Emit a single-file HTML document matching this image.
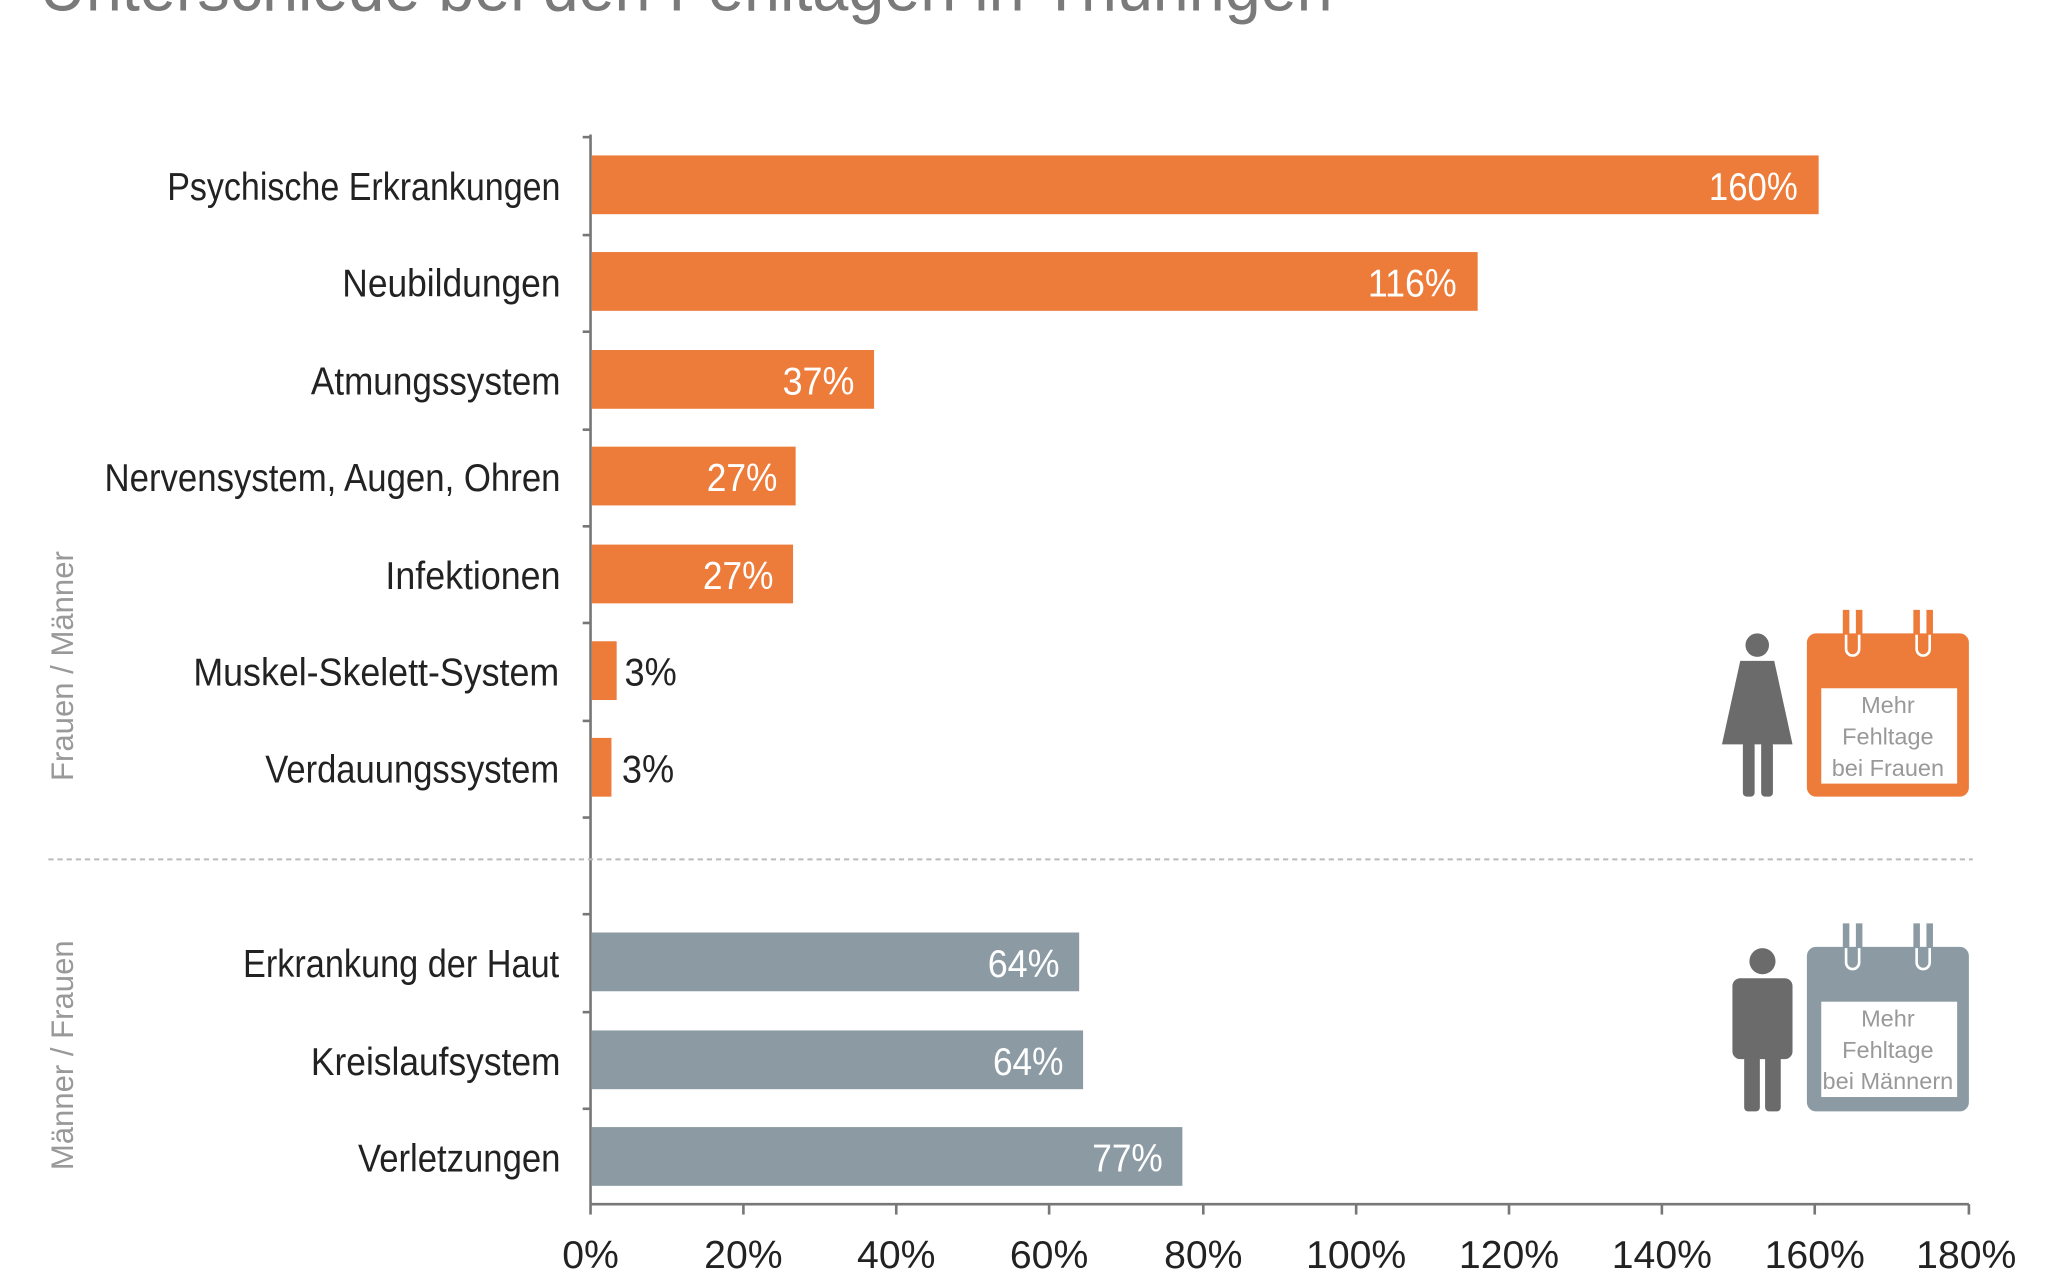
<!DOCTYPE html>
<html><head><meta charset="utf-8"><style>
html,body{margin:0;padding:0;background:#fff;width:2048px;height:1280px;overflow:hidden}
svg{display:block}
text{font-family:"Liberation Sans Narrow","Liberation Sans",sans-serif}
</style></head><body>
<svg width="2048" height="1280" viewBox="0 0 2048 1280">
<g transform="scale(1.3065,1.306)">
<text x="30" y="8" font-size="52" fill="#7a7a7a" textLength="990" lengthAdjust="spacingAndGlyphs">Unterschiede bei den Fehltagen in Thüringen</text>
<line x1="452" y1="103" x2="452" y2="922" stroke="#777" stroke-width="2"/>
<line x1="452" y1="922" x2="1507" y2="922" stroke="#777" stroke-width="2"/>
<g stroke="#777" stroke-width="2">
<line x1="446" y1="105" x2="452" y2="105"/><line x1="446" y1="180" x2="452" y2="180"/><line x1="446" y1="254" x2="452" y2="254"/><line x1="446" y1="329" x2="452" y2="329"/><line x1="446" y1="403" x2="452" y2="403"/><line x1="446" y1="477" x2="452" y2="477"/><line x1="446" y1="552" x2="452" y2="552"/><line x1="446" y1="626" x2="452" y2="626"/><line x1="446" y1="700" x2="452" y2="700"/><line x1="446" y1="775" x2="452" y2="775"/><line x1="446" y1="849" x2="452" y2="849"/>
<line x1="452" y1="922" x2="452" y2="930"/><line x1="569" y1="922" x2="569" y2="930"/><line x1="686" y1="922" x2="686" y2="930"/><line x1="803" y1="922" x2="803" y2="930"/><line x1="921" y1="922" x2="921" y2="930"/><line x1="1038" y1="922" x2="1038" y2="930"/><line x1="1155" y1="922" x2="1155" y2="930"/><line x1="1272" y1="922" x2="1272" y2="930"/><line x1="1389" y1="922" x2="1389" y2="930"/><line x1="1507" y1="922" x2="1507" y2="930"/>
</g>
<line x1="37" y1="658" x2="1510" y2="658" stroke="#bbb" stroke-width="1.5" stroke-dasharray="4,3"/>
<g font-size="30" fill="#222" text-anchor="middle">
<text x="452" y="971">0%</text><text x="569" y="971">20%</text><text x="686" y="971">40%</text><text x="803" y="971">60%</text><text x="921" y="971">80%</text><text x="1038" y="971">100%</text><text x="1155" y="971">120%</text><text x="1272" y="971">140%</text><text x="1389" y="971">160%</text><text x="1505" y="971">180%</text>
</g>
<g fill="#ED7B3A">
<rect x="453" y="119" width="939" height="45"/>
<rect x="453" y="193" width="678" height="45"/>
<rect x="453" y="268" width="216" height="45"/>
<rect x="453" y="342" width="156" height="45"/>
<rect x="453" y="417" width="154" height="45"/>
<rect x="453" y="491" width="19" height="45"/>
<rect x="453" y="565" width="15" height="45"/>
</g>
<g fill="#8C9BA3">
<rect x="453" y="714" width="373" height="45"/>
<rect x="453" y="789" width="376" height="45"/>
<rect x="453" y="863" width="452" height="45"/>
</g>
<g font-size="30" fill="#222" text-anchor="end">
<text x="429" y="153" textLength="301" lengthAdjust="spacingAndGlyphs">Psychische Erkrankungen</text>
<text x="429" y="227" textLength="167" lengthAdjust="spacingAndGlyphs">Neubildungen</text>
<text x="429" y="302" textLength="191" lengthAdjust="spacingAndGlyphs">Atmungssystem</text>
<text x="429" y="376" textLength="349" lengthAdjust="spacingAndGlyphs">Nervensystem, Augen, Ohren</text>
<text x="429" y="451" textLength="134" lengthAdjust="spacingAndGlyphs">Infektionen</text>
<text x="428" y="525" textLength="280" lengthAdjust="spacingAndGlyphs">Muskel-Skelett-System</text>
<text x="428" y="599" textLength="225" lengthAdjust="spacingAndGlyphs">Verdauungssystem</text>
<text x="428" y="748" textLength="242" lengthAdjust="spacingAndGlyphs">Erkrankung der Haut</text>
<text x="429" y="823" textLength="191" lengthAdjust="spacingAndGlyphs">Kreislaufsystem</text>
<text x="429" y="897" textLength="155" lengthAdjust="spacingAndGlyphs">Verletzungen</text>
</g>
<g font-size="30" fill="#fff">
<text x="1308" y="153" textLength="68" lengthAdjust="spacingAndGlyphs">160%</text>
<text x="1047" y="227" textLength="68" lengthAdjust="spacingAndGlyphs">116%</text>
<text x="599" y="302" textLength="55" lengthAdjust="spacingAndGlyphs">37%</text>
<text x="541" y="376" textLength="54" lengthAdjust="spacingAndGlyphs">27%</text>
<text x="538" y="451" textLength="54" lengthAdjust="spacingAndGlyphs">27%</text>
<text x="756" y="748" textLength="55" lengthAdjust="spacingAndGlyphs">64%</text>
<text x="760" y="823" textLength="54" lengthAdjust="spacingAndGlyphs">64%</text>
<text x="836" y="897" textLength="54" lengthAdjust="spacingAndGlyphs">77%</text>
</g>
<g font-size="30" fill="#222">
<text x="478" y="525" textLength="40" lengthAdjust="spacingAndGlyphs">3%</text>
<text x="476" y="599" textLength="40" lengthAdjust="spacingAndGlyphs">3%</text>
</g>
<g font-size="24" fill="#999" text-anchor="middle" font-family="Liberation Sans, sans-serif">
<text transform="translate(56,510) rotate(-90)" textLength="176" lengthAdjust="spacingAndGlyphs">Frauen / Männer</text>
<text transform="translate(56,808) rotate(-90)" textLength="176" lengthAdjust="spacingAndGlyphs">Männer / Frauen</text>
</g>
<g fill="#6b6b6b">
<circle cx="1345" cy="494" r="9"/>
<path d="M1332 506 L1358 506 L1372 570 L1318 570 Z"/>
<rect x="1334" y="568" width="9" height="42" rx="3"/>
<rect x="1348" y="568" width="9" height="42" rx="3"/>
</g>
<rect x="1383" y="485" width="124" height="125" rx="7" fill="#ED7B3A"/>
<rect x="1394" y="527" width="104" height="73" fill="#fff"/>
<g fill="none" stroke="#ED7B3A" stroke-width="5"><path d="M1413 467 V497 a5 5 0 0 0 10 0 V467"/><path d="M1467 467 V497 a5 5 0 0 0 10 0 V467"/></g>
<g fill="none" stroke="#fff" stroke-width="2"><path d="M1413 486 V497 a5 5 0 0 0 10 0 V486"/><path d="M1467 486 V497 a5 5 0 0 0 10 0 V486"/></g>
<g font-size="18" fill="#999" text-anchor="middle"><text x="1445" y="546">Mehr</text><text x="1445" y="570">Fehltage</text><text x="1445" y="594">bei Frauen</text></g>
<g fill="#6b6b6b">
<circle cx="1349" cy="736" r="10"/>
<rect x="1326" y="749" width="46" height="62" rx="6"/>
<rect x="1335" y="800" width="12" height="51" rx="3"/>
<rect x="1351" y="800" width="12" height="51" rx="3"/>
</g>
<rect x="1383" y="725" width="124" height="126" rx="7" fill="#8C9BA3"/>
<rect x="1394" y="767" width="104" height="73" fill="#fff"/>
<g fill="none" stroke="#8C9BA3" stroke-width="5"><path d="M1413 707 V737 a5 5 0 0 0 10 0 V707"/><path d="M1467 707 V737 a5 5 0 0 0 10 0 V707"/></g>
<g fill="none" stroke="#fff" stroke-width="2"><path d="M1413 726 V737 a5 5 0 0 0 10 0 V726"/><path d="M1467 726 V737 a5 5 0 0 0 10 0 V726"/></g>
<g font-size="18" fill="#999" text-anchor="middle"><text x="1445" y="786">Mehr</text><text x="1445" y="810">Fehltage</text><text x="1445" y="834">bei Männern</text></g>
</g>
</svg>
</body></html>
